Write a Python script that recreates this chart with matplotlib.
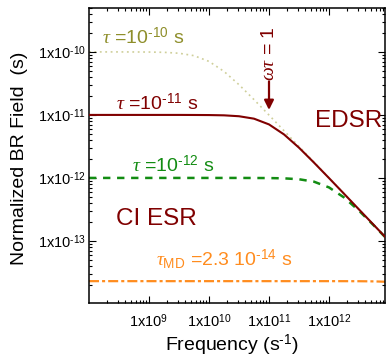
import numpy as np
import matplotlib
matplotlib.use('Agg')
import matplotlib.pyplot as plt
from matplotlib.ticker import FixedLocator, FuncFormatter, LogLocator, NullFormatter

plt.rcParams['font.family'] = ['Liberation Sans', 'DejaVu Sans']
plt.rcParams['mathtext.fontset'] = 'custom'
plt.rcParams['mathtext.rm'] = 'Liberation Sans'
plt.rcParams['mathtext.it'] = 'Liberation Serif:italic'
plt.rcParams['mathtext.bf'] = 'Liberation Sans:bold'
plt.rcParams['lines.scale_dashes'] = False

HY = '\u2010'  # short hyphen for the exponents

# frequency grid (s^-1), quarter decades
freq = [1e8, 1.78e8, 3.16e8, 5.62e8,
        1e9, 1.78e9, 3.16e9, 5.62e9,
        1e10, 1.78e10, 3.16e10, 5.62e10,
        1e11, 1.78e11, 3.16e11, 5.62e11,
        1e12, 1.78e12, 3.16e12, 5.62e12, 1e13]

# normalized BR field (s)
br_tau_1e10 = np.array([1, 1, 1, 0.998, 0.995, 0.985, 0.953, 0.872, 0.707, 0.490, 0.302,
                        0.175, 0.0995, 0.0561, 0.0316, 0.0178, 0.0100, 0.00562, 0.00316,
                        0.00178, 0.00100]) * 1e-10
br_tau_1e11 = np.array([1, 1, 1, 1, 1, 1, 1, 0.998, 0.995, 0.985, 0.953, 0.872, 0.707,
                        0.490, 0.302, 0.175, 0.0995, 0.0561, 0.0316, 0.0178, 0.0100]) * 1e-11
br_tau_1e12 = np.array([1, 1, 1, 1, 1, 1, 1, 1, 1, 1, 1, 0.998, 0.995, 0.985, 0.953,
                        0.872, 0.707, 0.490, 0.302, 0.175, 0.0995]) * 1e-12
br_tau_md = np.array([2.3, 2.3, 2.3, 2.3, 2.3, 2.3, 2.3, 2.3, 2.3, 2.3, 2.3, 2.3, 2.3,
                      2.3, 2.3, 2.3, 2.3, 2.298, 2.294, 2.281, 2.241]) * 1e-14

xticks = [1e9, 1e10, 1e11, 1e12]
yticks = [1e-13, 1e-12, 1e-11, 1e-10]

maroon = '#800000'
green = '#128c12'
olive_line = '#cfcf9a'
olive_text = '#8e8e2a'
orange = '#ff8c1e'


def expo(n):
    s = str(n).replace('-', HY)
    return r'$^{\mathregular{%s}}$' % s


fig = plt.figure(figsize=(3.87, 3.58), dpi=100)
ax = fig.add_axes([0.230, 0.154, 0.765, 0.824])

ax.plot(freq, br_tau_1e10, color=olive_line, lw=1.2, dashes=(1.3, 2.6), zorder=1)
ax.plot(freq, br_tau_md, color=orange, lw=1.6, dashes=(7.2, 2.2, 2.2, 2.2), zorder=2)
ax.plot(freq, br_tau_1e12, color=green, lw=1.8, dashes=(5.3, 4.8), zorder=2)
ax.plot(freq, br_tau_1e11, color=maroon, lw=1.5, zorder=3)

ax.set_xscale('log')
ax.set_yscale('log')
ax.set_xlim(1e8, 8.6e12)
ax.set_ylim(1.04e-14, 5e-10)

fmt = FuncFormatter(lambda v, p: '1x10' + expo(int(round(np.log10(v)))))
ax.xaxis.set_major_locator(FixedLocator(xticks))
ax.yaxis.set_major_locator(FixedLocator(yticks))
ax.xaxis.set_major_formatter(fmt)
ax.yaxis.set_major_formatter(fmt)
ax.xaxis.set_minor_locator(LogLocator(base=10, subs=np.arange(2, 10), numticks=20))
ax.yaxis.set_minor_locator(LogLocator(base=10, subs=np.arange(2, 10), numticks=20))
ax.xaxis.set_minor_formatter(NullFormatter())
ax.yaxis.set_minor_formatter(NullFormatter())

ax.tick_params(which='both', direction='in', top=True, right=True, width=0.8)
ax.tick_params(which='major', length=5, labelsize=10.5)
ax.tick_params(which='minor', length=2.5)
ax.tick_params(axis='x', which='major', pad=7)
ax.tick_params(axis='y', which='major', pad=2)
for s in ax.spines.values():
    s.set_linewidth(1.1)

ax.set_xlabel('Frequency (s' + expo(-1) + ')', fontsize=14)
ax.set_ylabel('Normalized BR Field  (s)', fontsize=14)
ax.xaxis.set_label_coords(0.483, -0.1)
ax.yaxis.set_label_coords(-0.205, 0.49)

ax.text(1.65e8, 1.34e-10, r'$\tau$ =10' + expo(-10) + ' s', color=olive_text, fontsize=14)
ax.text(2.8e8, 1.2e-11, r'$\tau$ =10' + expo(-11) + ' s', color=maroon, fontsize=14)
ax.text(5.2e8, 1.245e-12, r'$\tau$ =10' + expo(-12) + ' s', color=green, fontsize=14)
ax.text(2.8e8, 1.8e-13, 'CI ESR', color=maroon, fontsize=17.5)
ax.text(1.31e9, 4.16e-14, r'$\tau_{\mathregular{MD}}$ =2.3 10' + expo(-14) + ' s',
        color=orange, fontsize=14)
ax.text(5.84e11, 6.45e-12, 'EDSR', color=maroon, fontsize=17.5)

ax.annotate('', xy=(1e11, 1.2e-11), xytext=(1e11, 3.4e-11),
            arrowprops=dict(arrowstyle='-|>', color=maroon, lw=1.6, mutation_scale=14,
                            shrinkA=0, shrinkB=0))
ax.text(1e11, 3.4e-11, r'$\omega\tau$ = 1', color=maroon, fontsize=14, rotation=90,
        ha='center', va='bottom')

fig.savefig('out.png', dpi=100)
